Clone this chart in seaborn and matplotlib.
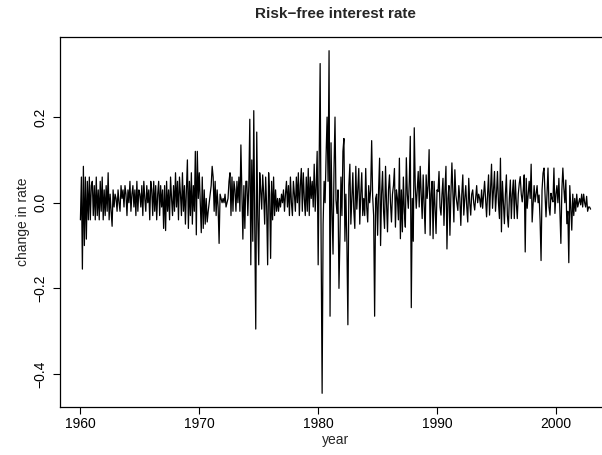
import numpy as np
import pandas as pd
import matplotlib
matplotlib.use("Agg")
import matplotlib.pyplot as plt
import seaborn as sns

# Monthly change in risk-free rate (Jan 1960 - Dec 2002)
start_year = 1960
rate_1960s = [
    -0.04, 0.06, -0.155, 0.085, -0.10, 0.06, -0.085, 0.05, -0.04, 0.06, -0.04, 0.04,
    0.05, -0.03, 0.04, -0.04, 0.06, -0.03, 0.03, -0.04, 0.05, -0.02, 0.06, -0.04,
    0.03, -0.03, 0.04, -0.02, 0.07, -0.04, 0.02, -0.02, -0.055, 0.03, -0.01, 0.02,
    0.01, -0.02, 0.03, 0.0, -0.02, 0.04, 0.01, 0.03, -0.01, 0.04, 0.02, -0.03,
    0.03, 0.0, 0.05, -0.02, 0.02, 0.04, -0.01, 0.03, -0.03, 0.05, -0.02, 0.03,
    0.02, -0.01, 0.04, -0.03, 0.05, 0.01, -0.02, 0.04, 0.0, 0.03, -0.04, 0.05,
    0.03, -0.03, 0.05, -0.02, 0.04, -0.04, 0.02, 0.05, -0.03, 0.04, -0.01, 0.03,
    -0.06, 0.04, -0.065, 0.05, -0.02, 0.03, -0.04, 0.06, 0.01, -0.03, 0.04, -0.02,
    0.07, -0.01, 0.05, -0.04, 0.06, 0.02, -0.03, 0.07, -0.02, 0.04, -0.05, 0.03,
    0.10, -0.06, 0.05, -0.03, 0.07, -0.05, 0.04, -0.02, 0.12, -0.075, 0.12, 0.01,
]
rate_1970s = [
    0.07, 0.0, -0.07, 0.06, -0.06, 0.03, -0.05, 0.01, -0.045, -0.02, 0.0, 0.02,
    0.04, 0.085, 0.06, -0.02, 0.05, -0.03, 0.03, -0.01, -0.095, 0.02, 0.01, 0.0,
    0.01, 0.0, 0.02, -0.01, 0.0, 0.01, 0.05, 0.07, -0.03, 0.06, -0.02, 0.05,
    0.03, -0.02, 0.05, 0.0, 0.06, -0.02, 0.135, 0.02, -0.085, 0.04, -0.06, 0.05,
    0.05, -0.03, 0.04, 0.195, -0.145, 0.10, -0.09, 0.215, -0.06, -0.295, 0.165, -0.03,
    -0.145, 0.07, 0.03, -0.015, 0.065, 0.02, -0.05, 0.06, -0.01, -0.145, 0.07, 0.02,
    -0.13, 0.05, -0.04, 0.06, -0.03, 0.03, -0.02, 0.01, -0.02, 0.01, -0.01, 0.02,
    0.0, 0.03, -0.02, 0.02, 0.05, -0.01, 0.04, -0.03, 0.06, 0.0, -0.03, 0.05,
    0.02, -0.02, 0.06, 0.0, 0.07, -0.03, 0.04, 0.08, -0.02, 0.07, 0.01, -0.03,
    0.06, -0.02, 0.08, -0.03, 0.06, 0.01, 0.05, -0.01, 0.09, -0.02, 0.04, 0.12,
]
rate_1980s = [
    -0.145, 0.10, 0.325, -0.10, -0.445, -0.05, 0.05, 0.0, 0.11, 0.2, 0.05, 0.355,
    -0.265, 0.14, -0.02, -0.12, 0.08, 0.2, 0.006, -0.025, 0.03, -0.2, -0.08, 0.06,
    -0.03, 0.12, 0.15, -0.09, 0.02, -0.095, -0.285, 0.04, 0.09, -0.05, 0.01, 0.07,
    -0.02, -0.06, 0.085, -0.015, 0.03, 0.08, -0.05, 0.02, 0.07, -0.03, 0.01, -0.03,
    0.08, -0.01, -0.045, 0.04, 0.0, 0.03, 0.145, 0.015, -0.03, -0.265, 0.01, 0.02,
    -0.076, 0.03, 0.104, -0.1, 0.02, 0.073, -0.02, -0.06, 0.085, 0.0, -0.068, 0.03,
    0.065, 0.0, -0.045, 0.02, 0.04, 0.08, -0.057, 0.03, 0.01, -0.04, 0.104, -0.084,
    0.03, -0.068, 0.06, -0.02, -0.057, 0.105, 0.02, -0.013, 0.05, 0.155, -0.245, 0.01,
    -0.09, 0.175, 0.04, -0.013, 0.03, 0.073, -0.01, 0.085, 0.02, -0.037, 0.065, 0.0,
    -0.072, 0.065, 0.01, 0.04, 0.124, -0.076, 0.02, 0.05, -0.084, 0.05, -0.01, -0.072,
]
rate_1990s = [
    0.03, 0.026, 0.073, -0.01, -0.029, 0.02, 0.057, -0.053, 0.03, 0.085, -0.108, 0.01,
    0.04, -0.076, 0.02, 0.093, 0.026, -0.045, 0.077, 0.018, 0.0, -0.018, 0.04, 0.01,
    -0.053, 0.02, 0.065, -0.029, 0.01, 0.04, -0.01, -0.045, 0.057, 0.0, -0.029, 0.02,
    0.03, 0.0, -0.017, 0.01, 0.04, 0.0, 0.02, 0.01, -0.01, 0.03, -0.013, 0.02,
    0.05, 0.01, -0.033, 0.02, 0.065, -0.029, 0.03, 0.09, -0.013, 0.03, 0.073, -0.02,
    0.02, 0.073, 0.0, -0.037, 0.104, -0.068, 0.05, 0.0, -0.049, 0.02, 0.065, -0.03,
    -0.057, 0.01, 0.053, -0.037, 0.02, 0.053, -0.037, 0.053, 0.0, -0.037, 0.02, 0.045,
    0.061, 0.02, 0.002, 0.03, 0.065, -0.115, 0.057, -0.013, 0.02, 0.05, 0.01, 0.09,
    -0.045, 0.0, 0.04, 0.002, 0.02, 0.04, 0.0, 0.018, -0.04, -0.135, 0.03, 0.069,
    0.081, 0.02, -0.033, 0.02, 0.081, -0.01, -0.029, 0.022, 0.01, 0.002, 0.081, -0.025,
]
rate_2000s = [
    0.02, 0.04, 0.0, 0.057, -0.02, -0.095, 0.03, 0.081, 0.034, 0.0, 0.053, -0.049,
    -0.02, -0.14, 0.04, -0.01, -0.064, 0.02, -0.03, 0.01, -0.02, 0.02, -0.01, 0.0,
    0.01, -0.005, 0.02, -0.01, 0.02, 0.0, -0.01, 0.015, -0.02, -0.01, -0.01, -0.015,
]

x_ticks = [1960, 1970, 1980, 1990, 2000]
y_ticks = [-0.4, -0.2, 0.0, 0.2]
y_tick_labels = ["\u22120.4", "\u22120.2", "0.0", "0.2"]

values = rate_1960s + rate_1970s + rate_1980s + rate_1990s + rate_2000s
year = start_year + np.arange(len(values)) / 12.0
df = pd.DataFrame({"year": year, "change": values})

sns.set_style("white")
plt.rcParams["font.family"] = ["Liberation Sans", "DejaVu Sans"]

fig = plt.figure(figsize=(6.02, 4.55), dpi=100)
ax = fig.add_axes([60 / 602, 48 / 455, 551 / 602, 370 / 455])

sns.lineplot(data=df, x="year", y="change", color="black", linewidth=0.9, ax=ax)

# R-style limits (4% padding)
xr = df["year"].max() - df["year"].min()
yr = df["change"].max() - df["change"].min()
ax.set_xlim(df["year"].min() - 0.04 * xr, df["year"].max() + 0.04 * xr)
ax.set_ylim(df["change"].min() - 0.04 * yr, df["change"].max() + 0.04 * yr)

for s in ax.spines.values():
    s.set_color("black")
    s.set_linewidth(0.9)
    s.set_visible(True)

ax.set_xticks(x_ticks)
ax.set_xticklabels([str(v) for v in x_ticks])
ax.set_yticks(y_ticks)
ax.set_yticklabels(y_tick_labels, rotation=90, va="center")
ax.tick_params(axis="both", which="both", direction="out", length=5, width=0.8,
               color="black", labelsize=10, labelcolor="black",
               bottom=True, left=True, top=False, right=False)
ax.tick_params(axis="x", pad=2)
ax.tick_params(axis="y", pad=4)

ax.set_xlabel("year", fontsize=10, va="center")
ax.set_ylabel("change in rate", fontsize=10, va="center")
ax.xaxis.set_label_coords(0.5, -0.089)
ax.yaxis.set_label_coords(-0.067, 0.5)
ax.set_title("Risk\u2212free interest rate", fontsize=11, fontweight="bold",
             y=1.062, va="center", pad=0)

fig.savefig("out.png", dpi=100)
